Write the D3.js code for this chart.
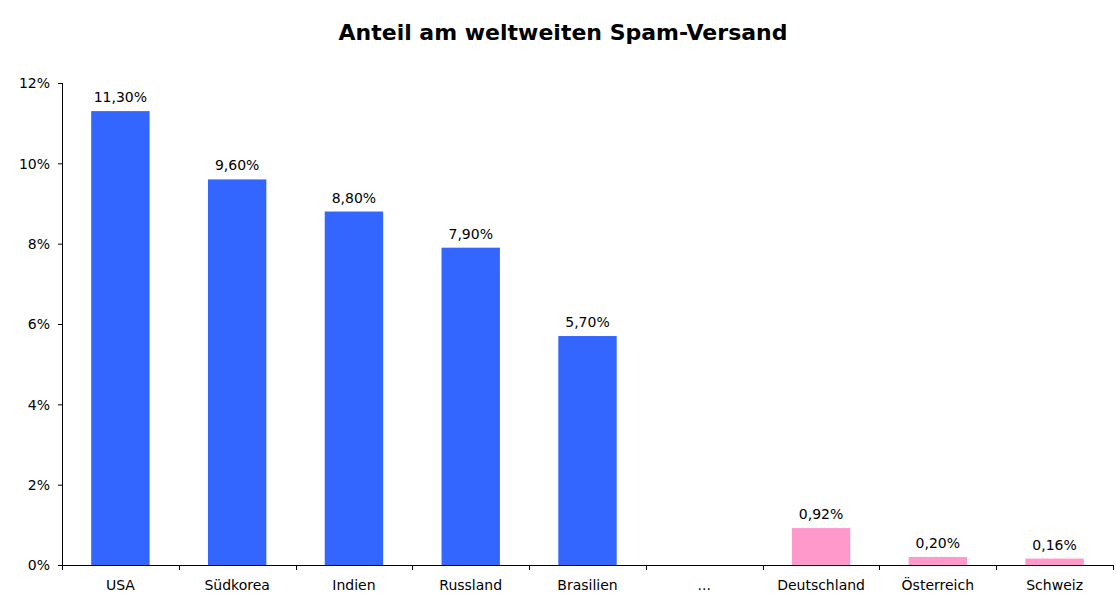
<!DOCTYPE html>
<html>
<head>
<meta charset="utf-8">
<script src="https://cdn.jsdelivr.net/npm/d3@7"></script>
<style>
  body { margin: 0; background: #fff; }
  svg text { font-family: Verdana, "DejaVu Sans", sans-serif; fill: #000; }
</style>
</head>
<body>
<svg id="chart" width="1116" height="612"></svg>
<script>
// chart data
var countries = ["USA", "Südkorea", "Indien", "Russland", "Brasilien", "...", "Deutschland", "Österreich", "Schweiz"];
var shares = [11.3, 9.6, 8.8, 7.9, 5.7, null, 0.92, 0.20, 0.16];
var highlighted = [false, false, false, false, false, false, true, true, true];
var yTicks = [0, 2, 4, 6, 8, 10, 12];

var margin = { top: 83, right: 3, bottom: 47, left: 62 };
var width = 1116 - margin.left - margin.right;
var height = 612 - margin.top - margin.bottom;

var svg = d3.select("#chart");

svg.append("text")
    .attr("x", 563)
    .attr("y", 40)
    .attr("text-anchor", "middle")
    .style("font-size", "22px")
    .style("font-weight", "bold")
    .text("Anteil am weltweiten Spam-Versand");

var g = svg.append("g")
    .attr("transform", "translate(" + margin.left + "," + margin.top + ")");

var x = d3.scaleBand().domain(countries).range([0, width]).paddingInner(0.5).paddingOuter(0.25);
var y = d3.scaleLinear().domain([0, 12]).range([height, 0]);

function fmt(v) {
    return v.toFixed(2).replace(".", ",") + "%";
}

var rows = countries.map(function (c, i) {
    return { name: c, value: shares[i], pink: highlighted[i] };
}).filter(function (d) { return d.value !== null; });

g.selectAll(".bar")
    .data(rows)
    .enter().append("rect")
    .attr("class", "bar")
    .attr("x", function (d) { return x(d.name); })
    .attr("y", function (d) { return y(d.value); })
    .attr("width", x.bandwidth())
    .attr("height", function (d) { return height - y(d.value); })
    .style("fill", function (d) { return d.pink ? "#ff99cc" : "#3366ff"; });

g.selectAll(".val")
    .data(rows)
    .enter().append("text")
    .attr("class", "val")
    .attr("x", function (d) { return x(d.name) + x.bandwidth() / 2; })
    .attr("y", function (d) { return y(d.value) - 9; })
    .attr("text-anchor", "middle")
    .style("font-size", "14px")
    .text(function (d) { return fmt(d.value); });

// y axis
var yAxis = d3.axisLeft(y)
    .tickValues(yTicks)
    .tickSize(4)
    .tickPadding(8)
    .tickFormat(function (d) { return d + "%"; });
var ya = g.append("g").call(yAxis);
ya.select(".domain").attr("d", "M0.5," + height + "V0").attr("stroke", "#000");
ya.selectAll(".tick line").attr("x1", -4).attr("x2", 0.5).attr("stroke", "#000");
ya.selectAll(".tick text").style("font-size", "14px").attr("dy", "0.35em");

// x axis: ticks at category boundaries
var bounds = d3.range(countries.length + 1).map(function (i) { return i * x.step(); });
var xa = g.append("g").attr("transform", "translate(0," + height + ")");
xa.append("line")
    .attr("x1", 0).attr("x2", width)
    .attr("y1", 0.5).attr("y2", 0.5)
    .attr("stroke", "#000");
xa.selectAll(".bt")
    .data(bounds)
    .enter().append("line")
    .attr("x1", function (d) { return Math.round(d) + 0.5; })
    .attr("x2", function (d) { return Math.round(d) + 0.5; })
    .attr("y1", 0).attr("y2", 5)
    .attr("stroke", "#000");
xa.selectAll(".lbl")
    .data(countries)
    .enter().append("text")
    .attr("x", function (d) { return x(d) + x.bandwidth() / 2; })
    .attr("y", 25)
    .attr("text-anchor", "middle")
    .style("font-size", "14px")
    .text(function (d) { return d; });
</script>
</body>
</html>
